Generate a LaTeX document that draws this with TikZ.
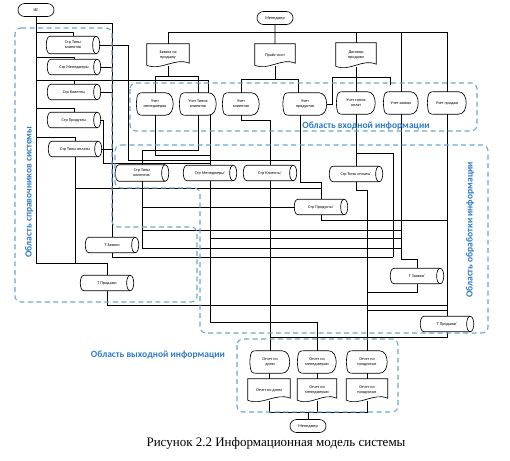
\documentclass[tikz,border=0pt]{standalone}
\usepackage{fontspec}
\setmainfont{Carlito}
\newfontfamily\captionfont{Liberation Serif}
\usetikzlibrary{calc, shapes.misc}

\newcommand\nodefont{\fontsize{4.2}{4.8}\selectfont}
\newcommand\docoutline[1]{%
  \draw[wire] (#1.north west) -- (#1.north east) -- ([yshift=3pt]#1.south east)
    .. controls ([xshift=-14pt,yshift=9pt]#1.south east) and ([xshift=14pt,yshift=-5pt]#1.south west) .. ([yshift=1pt]#1.south west) -- cycle;}
\newcommand\dispoutline[1]{%
  \draw[wire] ([xshift=8pt]#1.north west) -- ([xshift=-8pt]#1.north east)
    .. controls ([xshift=2pt]#1.north east) and ([xshift=2pt]#1.south east) .. ([xshift=-8pt]#1.south east)
    -- ([xshift=8pt]#1.south west) .. controls ([xshift=1pt]#1.south west) .. (#1.west)
    .. controls ([xshift=1pt]#1.north west) .. cycle;}
\newcommand\storeoutline[1]{%
  \draw[wire] ([xshift=3pt]#1.north west) -- ([xshift=-3pt]#1.north east)
    .. controls ([xshift=1.7pt]#1.north east) and ([xshift=1.7pt]#1.south east) .. ([xshift=-3pt]#1.south east)
    -- ([xshift=3pt]#1.south west)
    .. controls ([xshift=-1.7pt]#1.south west) and ([xshift=-1.7pt]#1.north west) .. cycle;
  \draw[wire] ([xshift=-3pt]#1.north east)
    .. controls ([xshift=-7.7pt]#1.north east) and ([xshift=-7.7pt]#1.south east) .. ([xshift=-3pt]#1.south east);}

\tikzset{
  wire/.style={draw=black, line width=0.65pt},
  term/.style={rounded rectangle, draw, line width=0.65pt, minimum width=38pt, minimum height=13pt, inner sep=1pt, font=\nodefont},
  docbox/.style={minimum width=42pt, minimum height=22pt, inner sep=1pt, align=center, font=\nodefont},
  dispbox/.style={minimum width=37pt, minimum height=22pt, inner sep=1pt, align=center, font=\nodefont},
  storebox/.style={minimum width=52pt, minimum height=15pt, inner sep=0.5pt, align=center, font=\nodefont},
  region/.style={draw=regionColour, line width=1.1pt, dash pattern=on 5pt off 3.5pt, rounded corners=6pt},
  regionlabel/.style={text=labelColour, font=\fontsize{9.5}{11}\selectfont\bfseries, inner sep=0pt}
}

\begin{document}
\begin{tikzpicture}[x=1pt, y=-1pt]
    \definecolor{regionColour}{HTML}{6AA6D4}
    \definecolor{labelColour}{HTML}{2E7BC4}
    \useasboundingbox (0,0) rectangle (510,460);

    % Terminals
    \node[term] (is) at (36,10) {ИС};
    \node[term] (men) at (275,18) {Менеджер};
    \node[term] (men2) at (308,426) {Менеджер};

    % Source documents
    \node[docbox] (zayavka) at (168,55) {Заявка на\\продажу};
    \node[docbox, minimum width=40pt] (price) at (275,55) {Прайс-лист};
    \node[docbox, minimum width=40pt, minimum height=24pt] (dogovor) at (356,55) {Договор\\продажи};

    % Input forms
    \node[dispbox] (uchmen) at (155,104) {Учет\\менеджеров};
    \node[dispbox] (uchtip) at (198,104) {Учет Типов\\клиентов};
    \node[dispbox] (uchkl) at (241,104) {Учет\\клиентов};
    \node[dispbox, minimum width=44pt] (uchpr) at (305,104) {Учет\\продуктов};
    \node[dispbox, minimum width=39pt] (uchopl) at (356,103) {Учет типов\\оплат};
    \node[dispbox, minimum width=35pt] (uchzay) at (401,103) {Учет заявок};
    \node[dispbox, minimum width=39pt] (uchsale) at (447,103) {Учет продаж};

    % Reference tables
    \node[storebox, minimum height=17pt] (ltyp) at (73,45) {Стр Типы\\клиентов};
    \node[storebox] (lmen) at (74,67) {Стр Менеджеры};
    \node[storebox] (lkl) at (74,92) {Стр Клиенты};
    \node[storebox] (lprd) at (74,120) {Стр Продукты};
    \node[storebox] (lopl) at (75,149) {Стр Типы оплаты};

    % Working tables
    \node[storebox, minimum height=16pt] (ptyp) at (142,173) {Стр Типы\\клиентов'};
    \node[storebox] (pmen) at (210,173) {Стр Менеджеры'};
    \node[storebox] (pkl) at (270,173) {Стр Клиенты'};
    \node[storebox] (popl) at (356,174) {Стр Типы оплаты'};
    \node[storebox] (pprd) at (321,207) {Стр Продукты'};
    \node[storebox] (tzay) at (112,245) {Т Заявки};
    \node[storebox] (tsale) at (107,283) {Т Продажи};
    \node[storebox] (ptzay) at (417,276) {Т Заявки'};
    \node[storebox] (ptsale) at (447,324) {Т Продажи'};

    % Reports
    \node[dispbox, minimum width=40pt] (rday) at (270,362) {Отчет по\\дням};
    \node[dispbox, minimum width=39pt] (rmen) at (317,362) {Отчет по\\менеджерам};
    \node[dispbox, minimum width=41pt] (rprd) at (367,362) {Отчет по\\продуктам};
    \node[docbox] (dday) at (269,390) {Отчет по дням};
    \node[docbox, minimum width=39pt] (dmen) at (317,390) {Отчет по\\менеджерам};
    \node[docbox, minimum width=41pt] (dprd) at (367,390) {Отчет по\\продуктам};

    \foreach \n in {zayavka, price, dogovor, dday, dmen, dprd} {\docoutline{\n}}
    \foreach \n in {uchmen, uchtip, uchkl, uchpr, uchopl, uchzay, uchsale, rday, rmen, rprd} {\dispoutline{\n}}
    \foreach \n in {ltyp, lmen, lkl, lprd, lopl, ptyp, pmen, pkl, popl, pprd, tzay, tsale, ptzay, ptsale} {\storeoutline{\n}}

    % Helper points
    \coordinate (topbus) at (0,32);
    \coordinate (prdrop) at ([xshift=-5pt]uchpr.south);
    \coordinate (dstub) at (390,85);

    % Top distribution
    \draw[wire] (men) -- (price);
    \draw[wire] (zayavka.north) |- (uchsale.north |- topbus) -- (uchsale.north);
    \draw[wire] (dogovor.north) -- (dogovor.north |- topbus);
    \draw[wire] (uchzay.north) -- (uchzay.north |- topbus);

    % Documents to input forms
    \draw[wire] (zayavka.south) -- ++(0,10) coordinate (zb);
    \draw[wire] (uchmen.north) |- (zb) -| (uchtip.north);
    \draw[wire] (price.south) -- ++(0,13) coordinate (pb);
    \draw[wire] (uchkl.north) |- (pb) -| ([xshift=-7pt]uchpr.north);
    \draw[wire] (dogovor.south) -- (uchopl.north);
    \draw[wire] (uchpr.east) -| (332,77) -- (dstub |- 0,77) -- (dstub);

    % Reference system wiring
    \draw[wire] (is.south) |- (tsale.north |- 0,263) -- (tsale.north);
    \draw[wire] (is.south |- 0,23) -| (tzay.north);
    \foreach \n/\y in {ltyp/32, lmen/57, lprd/108, lopl/137}
        \draw[wire] (is.south |- 0,\y) -| (\n.north);
    \draw[wire] (is.south |- 0,80) -| ([xshift=10pt]uchtip.north);
    \draw[wire] (lkl.north |- 0,80) -- (lkl.north);
    \foreach \n in {lmen, lkl, lopl}
        \draw[wire] (\n.east) -- (\n.east -| tzay.north);
    \draw[wire] (ltyp.east) -| (128,160) -- (prdrop |- 0,160);
    \draw[wire] (lprd.east) -| (103,163) -- (pmen.north |- 0,163);
    \draw[wire] (lopl.south) -- (lopl.south |- 0,263);
    \draw[wire] (lopl.south |- 0,188) -- (pprd.north |- 0,188);

    % Input forms to working tables
    \draw[wire] (uchmen.south) |- (pmen.north |- 0,155);
    \draw[wire] (uchtip.south -| pmen.north) -- (pmen.north);
    \draw[wire] (uchtip.south) |- (ptyp.north |- 0,150) -- (ptyp.north);
    \draw[wire] (uchkl.south) -- ++(0,5) -| (pkl.north);
    \draw[wire] (prdrop) |- (pprd.north |- 0,182) -- (pprd.north);
    \draw[wire] (pprd.south) |- (ptsale.north |- 0,220);
    \draw[wire] (uchopl.south) -- (popl.north);
    \draw[wire] (uchopl.south |- 0,153) -| (393,257);
    \draw[wire] (uchzay.south) |- ([yshift=9pt]ptzay.north) -- (ptzay.north);
    \draw[wire] (uchsale.south) -- (ptsale.north);

    % Processing buses
    \draw[wire] (ptyp.south) |- (uchzay.south |- 0,248);
    \draw[wire] (ptyp.south |- pprd.west) -- (pprd.west);
    \draw[wire] (ptyp.south |- 0,230) -- (uchzay.south |- 0,230);
    \draw[wire] (pmen.south |- 0,238) -- (uchzay.south |- 0,238);
    \draw[wire] (tzay.south) |- (393,257);
    \draw[wire] (tsale.south) |- (ptsale.north |- 0,305);

    % Working tables to reports
    \draw[wire] (pkl.south) -- (rday.north);
    \draw[wire] (pmen.south) |- (rmen.north |- 0,322) -- (rmen.north);
    \draw[wire] (popl.south) |- (rprd.north |- 0,190) -- (rprd.north);
    \draw[wire] (ptzay.south) |- (rprd.north |- 0,292);
    \draw[wire] (rprd.north |- 0,310) -- (ptsale.north |- 0,310);
    \draw[wire] (ptsale.south) |- (rday.north |- 0,337);
    \foreach \a/\b in {rday/dday, rmen/dmen, rprd/dprd}
        \draw[wire] (\a) -- (\b);
    \draw[wire] (dday.south) |- (dprd.south |- 0,412) -- (dprd.south);
    \draw[wire] (dmen.south) -- (dmen.south |- 0,412);
    \draw[wire] (men2.north |- 0,412) -- (men2.north);

    % Regions
    \draw[region] (130,83) rectangle (477,131);
    \draw[region] (115,145) -- (488,145) -- (488,333) -- (200,333) -- (200,188) -- (115,188) -- cycle;
    \draw[region] (15,28) -- (112,28) -- (112,227) -- (197,227) -- (197,302) -- (15,302) -- cycle;
    \draw[region] (237,339) rectangle (398,412);

    \node[regionlabel] (lblin) at (366,126) {Область входной информации};
    \node[regionlabel, rotate=90] (lblref) at (29,192) {Область справочников системы};
    \node[regionlabel, rotate=90] (lblproc) at (470,230) {Область обработки информации};
    \node[regionlabel] (lblout) at (158,355) {Область выходной информации};

    % Caption
    \node[font=\captionfont\fontsize{13}{15}\selectfont] (caption) at (276,443) {Рисунок 2.2 Информационная модель системы};
\end{tikzpicture}
\end{document}
